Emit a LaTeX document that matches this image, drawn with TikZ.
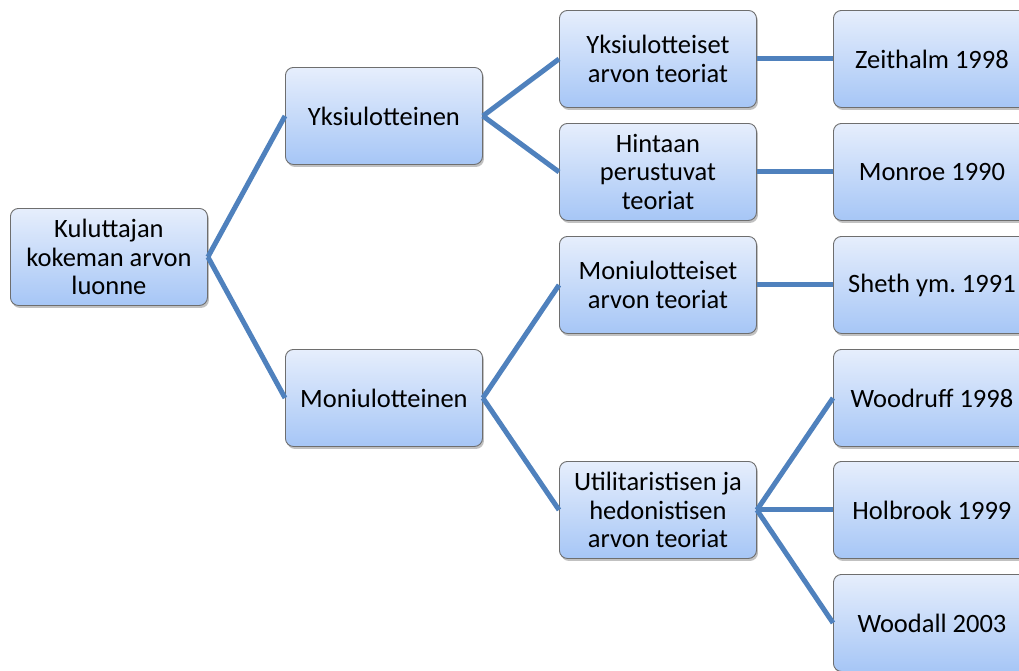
\documentclass[tikz,border=0pt]{standalone}
\usepackage{fontspec}
\setmainfont{Carlito}
\usetikzlibrary{shadows}
\frenchspacing

\definecolor{boxtop}{RGB}{230,238,252}
\definecolor{boxbot}{RGB}{166,198,246}
\definecolor{boxedge}{RGB}{110,110,110}
\definecolor{linkblue}{RGB}{79,129,189}

\tikzset{
  box/.style={
    anchor=north west, rounded corners=8pt, draw=boxedge, line width=0.9pt,
    top color=boxtop, bottom color=boxbot,
    minimum width=197pt, minimum height=97pt, inner sep=2pt,
    align=center, font=\fontsize{26.5}{28.5}\selectfont,
    drop shadow={shadow xshift=1.5pt, shadow yshift=-2.5pt, opacity=0.35, fill=black!70}
  },
  link/.style={draw=linkblue, line width=5pt}
}

\begin{document}
\begin{tikzpicture}[x=1pt, y=-1pt]
  \useasboundingbox (0,0) rectangle (1019,670);
  \clip (0,0) rectangle (1019,670);

  % root
  \node[box] (root) at (10,208) {Kuluttajan\\kokeman arvon\\luonne};

  % first level
  \node[box] (yks) at (285,67) {Yksiulotteinen};
  \node[box] (moni) at (285,349) {Moniulotteinen};

  % second level
  \node[box] (yksteo) at (559,10) {Yksiulotteiset\\arvon teoriat};
  \node[box] (hinta) at (559,123) {Hintaan\\perustuvat\\teoriat};
  \node[box] (moniteo) at (559,236) {Moniulotteiset\\arvon teoriat};
  \node[box] (util) at (559,461) {Utilitaristisen ja\\hedonistisen\\arvon teoriat};

  % third level
  \node[box] (zeit) at (833,10) {Zeithalm 1998};
  \node[box] (monroe) at (833,123) {Monroe 1990};
  \node[box] (sheth) at (833,236) {Sheth ym. 1991};
  \node[box] (woodr) at (833,349) {Woodruff 1998};
  \node[box] (holb) at (833,461) {Holbrook 1999};
  \node[box] (wooda) at (833,574) {Woodall 2003};

  % connectors
  \draw[link] (root.east) -- (yks.west);
  \draw[link] (root.east) -- (moni.west);
  \draw[link] (yks.east) -- (yksteo.west);
  \draw[link] (yks.east) -- (hinta.west);
  \draw[link] (moni.east) -- (moniteo.west);
  \draw[link] (moni.east) -- (util.west);
  \draw[link] (yksteo.east) -- (zeit.west);
  \draw[link] (hinta.east) -- (monroe.west);
  \draw[link] (moniteo.east) -- (sheth.west);
  \draw[link] (util.east) -- (woodr.west);
  \draw[link] (util.east) -- (holb.west);
  \draw[link] (util.east) -- (wooda.west);
\end{tikzpicture}
\end{document}
